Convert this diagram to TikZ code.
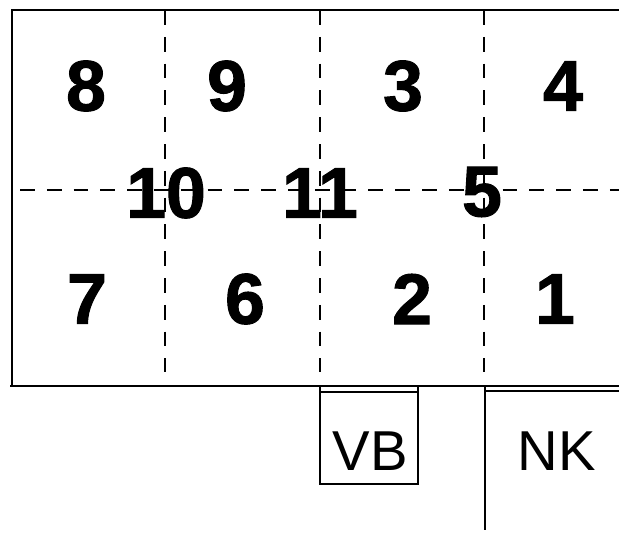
\documentclass[tikz,border=0pt]{standalone}
\usepackage{fontspec}
\setmainfont{Liberation Sans}[BoldFeatures={FakeBold=1.4}]
\usepackage{tikz}

\begin{document}
\begin{tikzpicture}[x=0.025cm, y=-0.025cm,
  num/.style={inner sep=0pt, font=\bfseries\fontsize{51}{51}\selectfont},
  lbl/.style={inner sep=0pt, font=\fontsize{40}{40}\selectfont},
  cut/.style={line width=0.9pt, dash pattern=on 0.37cm off 0.3cm}]
\useasboundingbox (0,0) rectangle (619,534);
\draw[line width=1.7pt] (619,10) -- (12,10) -- (12,386);
\draw[line width=1.7pt] (10,386) -- (619,386);
\draw[cut] (165,10) -- (165,372);
\draw[cut] (320,10) -- (320,372);
\draw[cut] (484,10) -- (484,372);
\draw[cut] (20,190) -- (619,190);
\draw[line width=1.4pt] (320,386) rectangle (418,484);
\draw[line width=1.4pt] (320,392) -- (418,392);
\draw[line width=1.4pt] (485,386) -- (485,530);
\draw[line width=1.4pt] (485,391) -- (619,391);
\node[num] (n8) at (86,86) {8};
\node[num] (n9) at (227,86) {9};
\node[num] (n3) at (403,86) {3};
\node[num] (n4) at (563,86) {4};
\node[num] (n10) at (166,193) {10};
\node[num] (n11) at (320,193) {11};
\node[num] (n5) at (482,192) {5};
\node[num] (n7) at (87,299) {7};
\node[num] (n6) at (245,299) {6};
\node[num] (n2) at (412,299) {2};
\node[num] (n1) at (555,299) {1};
\node[lbl] (vb) at (370,451) {VB};
\node[lbl] (nk) at (557,451) {NK};
\end{tikzpicture}
\end{document}
